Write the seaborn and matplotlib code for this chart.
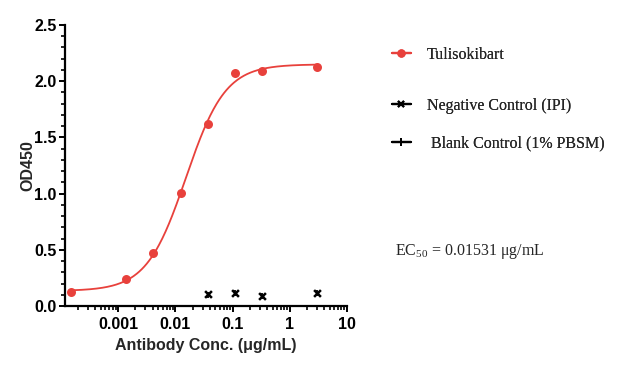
import numpy as np
import pandas as pd
import matplotlib
matplotlib.use("Agg")
import matplotlib.pyplot as plt
import seaborn as sns
from matplotlib.ticker import FixedLocator, MultipleLocator, LogLocator, NullFormatter
from matplotlib.lines import Line2D

# Data
conc = [0.000152, 0.00137, 0.00412, 0.0123, 0.037, 0.111, 0.333, 3.0]
od_tuli = [0.128, 0.237, 0.469, 1.008, 1.622, 2.073, 2.09, 2.13]
conc_ctrl = [0.037, 0.111, 0.333, 3.0]
od_neg = [0.104, 0.119, 0.092, 0.119]
od_blank = [0.100, 0.115, 0.090, 0.115]

# 4PL fit parameters
fit_bottom = 0.135
fit_top = 2.15
fit_ec50 = 0.01531
fit_hill = 1.26

x_ticks = [0.001, 0.01, 0.1, 1, 10]
x_ticklabels = ["0.001", "0.01", "0.1", "1", "10"]

sns.set_theme(style="ticks")
plt.rcParams["font.family"] = ["Liberation Sans", "DejaVu Sans"]

fig = plt.figure(figsize=(6.24, 3.90), dpi=100)
ax = fig.add_axes([0.104, 0.215, 0.452, 0.721])

red = "#e8413c"
xs = np.logspace(np.log10(1.5e-4), np.log10(3.0), 300)
ys = fit_bottom + (fit_top - fit_bottom) / (1 + (fit_ec50 / xs) ** fit_hill)
sns.lineplot(x=xs, y=ys, ax=ax, color=red, lw=1.3, estimator=None)

df = pd.DataFrame({"conc": conc, "od": od_tuli})
sns.scatterplot(data=df, x="conc", y="od", ax=ax, color=red, s=42, edgecolor=red, linewidth=0, zorder=5)
sns.scatterplot(x=conc_ctrl, y=od_neg, ax=ax, marker="x", color="black", s=24, linewidth=1.8, zorder=5)
sns.scatterplot(x=conc_ctrl, y=od_blank, ax=ax, marker="|", color="black", s=16, linewidth=1.3, zorder=5)

ax.set_xscale("log")
ax.set_xlim(1.17e-4, 10)
ax.set_ylim(0, 2.5)
ax.xaxis.set_major_locator(FixedLocator(x_ticks))
ax.set_xticklabels(x_ticklabels)
ax.xaxis.set_minor_locator(LogLocator(base=10, subs=np.arange(2, 10)))
ax.xaxis.set_minor_formatter(NullFormatter())
ax.yaxis.set_major_locator(MultipleLocator(0.5))
ax.yaxis.set_minor_locator(MultipleLocator(0.1))
ax.yaxis.set_major_formatter(matplotlib.ticker.FormatStrFormatter("%.1f"))

for s in ["top", "right"]:
    ax.spines[s].set_visible(False)
for s in ["left", "bottom"]:
    ax.spines[s].set_linewidth(1.6)
    ax.spines[s].set_color("black")
ax.tick_params(axis="both", which="major", length=4.5, width=1.4, colors="black", labelsize=11.5)
ax.tick_params(axis="y", which="major", pad=1.5)
ax.tick_params(axis="both", which="minor", length=3, width=1.2, colors="black")
for lab in ax.get_xticklabels() + ax.get_yticklabels():
    lab.set_fontweight("bold")

ax.set_xlabel("Antibody Conc. (μg/mL)", fontsize=11.5, fontweight="bold", labelpad=4)
ax.set_ylabel("OD450", fontsize=11.5, fontweight="bold", labelpad=-1)

serif = ["Liberation Serif", "DejaVu Serif"]
entries = [
    (Line2D([], [], color=red, marker="o", markersize=5, lw=1.6), "Tulisokibart", 0.859),
    (Line2D([], [], color="black", marker="x", markersize=5, markeredgewidth=1.5, lw=1.6),
     "Negative Control (IPI)", 0.728),
    (Line2D([], [], color="black", marker="|", markersize=6, markeredgewidth=1.3, lw=1.6),
     " Blank Control (1% PBSM)", 0.633),
]
for h, lab, yy in entries:
    leg = fig.legend([h], [lab], loc="center left", bbox_to_anchor=(0.628, yy),
                     frameon=False, handlelength=1.2, handletextpad=1.0,
                     borderpad=0, borderaxespad=0, prop={"family": serif, "size": 11.5})
    fig.add_artist(leg)

fig.text(0.633, 0.355, "EC$_{\\mathregular{50}}$ = 0.01531 μg/mL", family=serif, fontsize=11.5,
         va="center", ha="left")

fig.savefig("out.png", dpi=100, facecolor="white")
